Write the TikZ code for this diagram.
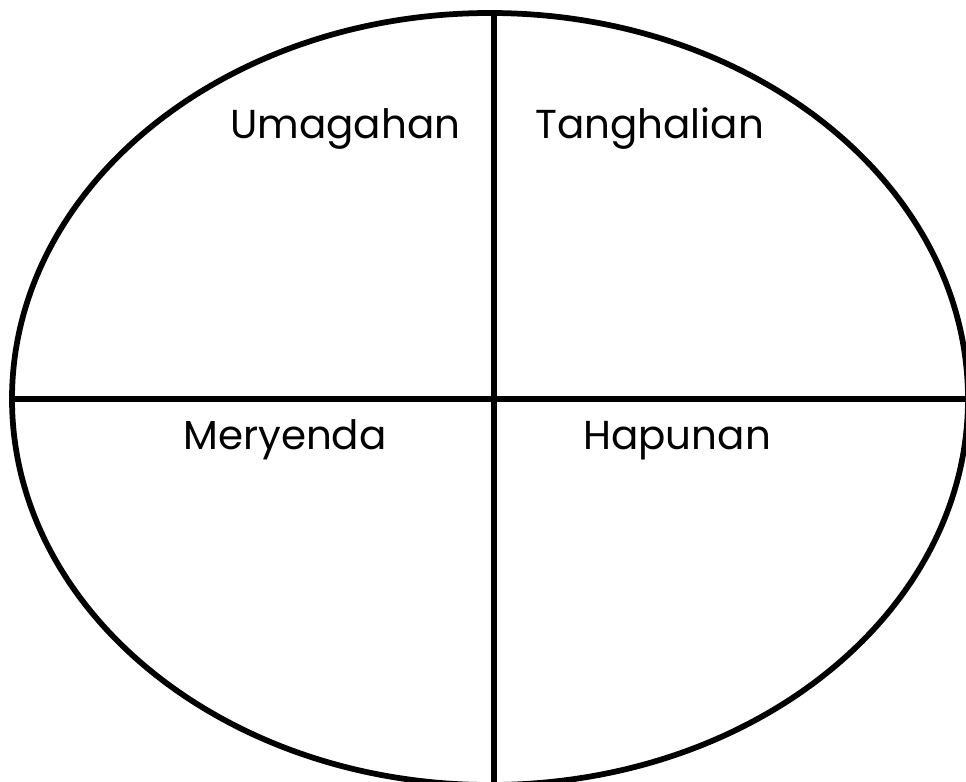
\documentclass[tikz,border=0pt]{standalone}
\usepackage{fontspec}
\setmainfont{Poppins}
\usepackage{tikz}

\begin{document}
\begin{tikzpicture}[x=0.02cm, y=-0.02cm, meal/.style={anchor=base west, inner sep=0pt, font=\fontsize{23}{26}\selectfont},
  rim/.style={line width=0.115cm}]
\useasboundingbox (0,0) rectangle (966,781);
\clip (0,0) rectangle (966,781);
\coordinate (mid) at (490,399);
\draw[rim] (mid) ellipse [x radius=478, y radius=386];
\coordinate (top) at (494,13);
\coordinate (bot) at (494,785);
\coordinate (lft) at (12,399);
\coordinate (rgt) at (970,399);
\draw[rim] (top) -- (bot);
\draw[rim] (lft) -- (rgt);
\node[meal] (uma) at (230,138) {Umagahan};
\node[meal] (tang) at (535,138) {Tanghalian};
\node[meal] (mer) at (183,449) {Meryenda};
\node[meal] (hap) at (583,449) {Hapunan};
\end{tikzpicture}
\end{document}
